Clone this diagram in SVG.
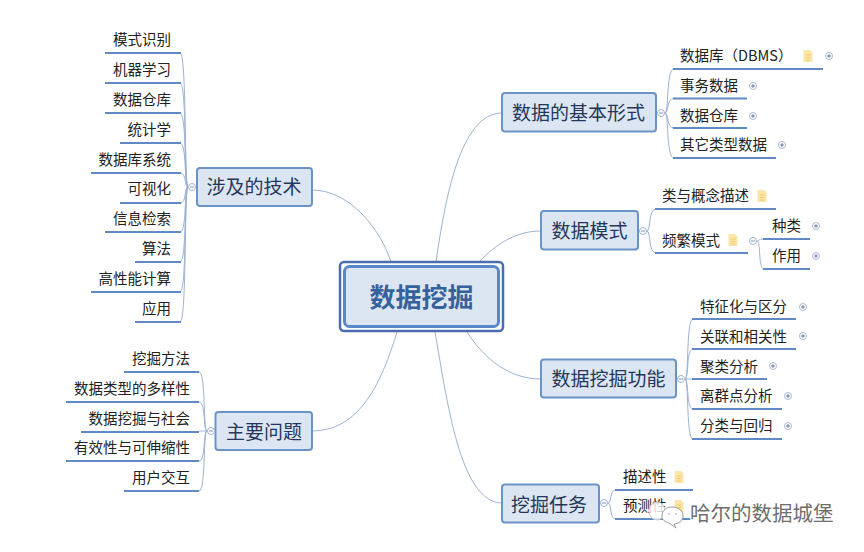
<svg xmlns="http://www.w3.org/2000/svg" width="864" height="552" viewBox="0 0 864 552">
<defs>
<style>
text{font-family:"Noto Sans CJK SC","Liberation Sans",sans-serif;}
.leaf{font-size:14.5px;fill:#222}
.end{text-anchor:end}
.topic{font-size:19px;fill:#24375a;text-anchor:middle}
.box{fill:#dce6f2;stroke:#6a94c8;stroke-width:2}
.ul{stroke:#5f8ac4;stroke-width:2;fill:none}
.c{fill:none;stroke:#9db2d3;stroke-width:1}
.o{fill:#fff;stroke:#9db2d3;stroke-width:1}
.sign{stroke:#7f93b5;stroke-width:1;fill:none}
</style>
<g id="minus"><circle class="o" r="3.5"/><path class="sign" d="M-2 0H2"/></g>
<g id="plus"><circle r="3.5" fill="#fff" stroke="#a9b9d4"/><path d="M-1.8 0H1.8M0 -1.8V1.8" stroke="#5f7299" stroke-width="1"/></g>
<g id="note"><path d="M-4.500 -6H2L4.500 -3.500V6H-4.500Z" fill="#fbe6a9"/><path d="M-2.500 -1H2.500M-2.500 1.500H2.500M-2.500 4H2.500" stroke="#f3cb6e" stroke-width="1"/></g>
</defs>
<rect width="864" height="552" fill="#fff"/>
<g id="connectors">
<path class="c" d="M391 262C381 230 350 190 312 190"/>
<path class="c" d="M397 332C385 370 365 431 312 431"/>
<path class="c" d="M436 262C445 200 460 113 502 113"/>
<path class="c" d="M479 262C495 245 515 231 541 231"/>
<path class="c" d="M467 332C485 360 510 379 541 379"/>
<path class="c" d="M435 332C447 400 460 503 502 503"/>
<g>
<path class="c" d="M188 187C184 187 187 53 180 53"/><path class="c" d="M188 187C184 187 187 83 180 83"/><path class="c" d="M188 187C184 187 187 113 180 113"/><path class="c" d="M188 187C184 187 187 143 180 143"/><path class="c" d="M188 187C184 187 187 173 180 173"/><path class="c" d="M188 187C184 187 187 203 180 203"/><path class="c" d="M188 187C184 187 187 232 180 232"/><path class="c" d="M188 187C184 187 187 262 180 262"/><path class="c" d="M188 187C184 187 187 292 180 292"/><path class="c" d="M188 187C184 187 187 322 180 322"/>
<path class="c" d="M207 431C203 431 206 372 199 372"/><path class="c" d="M207 431C203 431 206 402 199 402"/><path class="c" d="M207 431H199"/><path class="c" d="M207 431C203 431 206 461 199 461"/><path class="c" d="M207 431C203 431 206 491 199 491"/>
<path class="c" d="M665 113C669 113 666 69 674 69"/><path class="c" d="M665 113C669 113 666 98.500 674 98.500"/><path class="c" d="M665 113C669 113 666 128 674 128"/><path class="c" d="M665 113C669 113 666 158 674 158"/>
<path class="c" d="M647 231C651 231 648 209 656 209"/><path class="c" d="M647 231C651 231 648 253 656 253"/>
<path class="c" d="M757 241C760 241 757 239 764 239"/><path class="c" d="M757 241C761 241 758 269 764 269"/>
<path class="c" d="M685 379C689 379 686 319 693 319"/><path class="c" d="M685 379C689 379 686 349 693 349"/><path class="c" d="M685 379H693"/><path class="c" d="M685 379C689 379 686 409 693 409"/><path class="c" d="M685 379C689 379 686 439 693 439"/>
<path class="c" d="M608 503C612 503 609 490 616 490"/><path class="c" d="M608 503C612 503 609 519 616 519"/>
</g>
</g>
<g id="root">
<rect x="340" y="262" width="163" height="69" rx="4" fill="#fff" stroke="#4a6db0" stroke-width="2.500"/>
<rect x="344.500" y="266.500" width="154" height="60" rx="5" fill="#dce6f2" stroke="#5b87c9" stroke-width="3"/>
<text x="421.500" y="307" font-size="26" font-weight="700" text-anchor="middle" fill="#36619c">数据挖掘</text>
</g>
<g id="n-tech"><rect class="box" x="197" y="168" width="115" height="38" rx="3"/><text class="topic" x="254" y="194">涉及的技术</text><use href="#minus" x="192" y="187"/></g>
<g id="n-issue"><rect class="box" x="215.500" y="412" width="96.500" height="38" rx="3"/><text class="topic" x="264" y="439">主要问题</text><use href="#minus" x="211" y="431"/></g>
<g id="n-basic"><rect class="box" x="502" y="93" width="154" height="38.500" rx="3"/><text class="topic" x="578.500" y="120">数据的基本形式</text><use href="#minus" x="661" y="113"/></g>
<g id="n-pattern"><rect class="box" x="541" y="211" width="97" height="38.500" rx="3"/><text class="topic" x="589.500" y="238">数据模式</text><use href="#minus" x="643" y="231"/></g>
<g id="n-func"><rect class="box" x="541" y="359.500" width="135" height="38" rx="3"/><text class="topic" x="608.500" y="386">数据挖掘功能</text><use href="#minus" x="681" y="379"/></g>
<g id="n-task"><rect class="box" x="502" y="484.500" width="97" height="38" rx="3"/><text class="topic" x="549" y="512">挖掘任务</text><use href="#minus" x="604" y="503"/></g>
<g id="l1"><path class="ul" d="M105 53H181"/><text class="leaf end" x="171" y="45">模式识别</text></g>
<g id="l2"><path class="ul" d="M105 83H181"/><text class="leaf end" x="171" y="75">机器学习</text></g>
<g id="l3"><path class="ul" d="M105 113H181"/><text class="leaf end" x="171" y="105">数据仓库</text></g>
<g id="l4"><path class="ul" d="M120 143H181"/><text class="leaf end" x="171" y="135">统计学</text></g>
<g id="l5"><path class="ul" d="M91 173H181"/><text class="leaf end" x="171" y="165">数据库系统</text></g>
<g id="l6"><path class="ul" d="M120 203H181"/><text class="leaf end" x="171" y="194">可视化</text></g>
<g id="l7"><path class="ul" d="M105 232H181"/><text class="leaf end" x="171" y="224">信息检索</text></g>
<g id="l8"><path class="ul" d="M135 262H181"/><text class="leaf end" x="171" y="254">算法</text></g>
<g id="l9"><path class="ul" d="M91 292H181"/><text class="leaf end" x="171" y="284">高性能计算</text></g>
<g id="l10"><path class="ul" d="M135 322H181"/><text class="leaf end" x="171" y="314">应用</text></g>
<g id="i1"><path class="ul" d="M124 372H199"/><text class="leaf end" x="190" y="364">挖掘方法</text></g>
<g id="i2"><path class="ul" d="M66 402H199"/><text class="leaf end" x="190" y="394">数据类型的多样性</text></g>
<g id="i3"><path class="ul" d="M81 432H199"/><text class="leaf end" x="190" y="424">数据挖掘与社会</text></g>
<g id="i4"><path class="ul" d="M66 461H199"/><text class="leaf end" x="190" y="453">有效性与可伸缩性</text></g>
<g id="i5"><path class="ul" d="M124 491H199"/><text class="leaf end" x="190" y="483">用户交互</text></g>
<g id="b1"><path class="ul" d="M673 69H823"/><text class="leaf" x="680" y="61">数据库（DBMS）</text><use href="#note" x="808" y="56"/><use href="#plus" x="829" y="56"/></g>
<g id="b2"><path class="ul" d="M673 98.500H747"/><text class="leaf" x="680" y="91">事务数据</text><use href="#plus" x="753" y="86"/></g>
<g id="b3"><path class="ul" d="M673 128H747"/><text class="leaf" x="680" y="121">数据仓库</text><use href="#plus" x="753" y="116"/></g>
<g id="b4"><path class="ul" d="M673 158H776"/><text class="leaf" x="680" y="150">其它类型数据</text><use href="#plus" x="782" y="145"/></g>
<g id="p1"><path class="ul" d="M655 209H776"/><text class="leaf" x="662" y="201">类与概念描述</text><use href="#note" x="762" y="196"/></g>
<g id="p2"><path class="ul" d="M655 253H748"/><text class="leaf" x="662" y="246">频繁模式</text><use href="#note" x="733" y="240"/><use href="#minus" x="753" y="241"/></g>
<g id="p3"><path class="ul" d="M763 239H810"/><text class="leaf" x="772" y="231">种类</text><use href="#plus" x="816" y="226"/></g>
<g id="p4"><path class="ul" d="M763 269H810"/><text class="leaf" x="772" y="261">作用</text><use href="#plus" x="816" y="256"/></g>
<g id="f1"><path class="ul" d="M692 319H796"/><text class="leaf" x="700" y="312">特征化与区分</text><use href="#plus" x="803" y="307"/></g>
<g id="f2"><path class="ul" d="M692 349H796"/><text class="leaf" x="700" y="342">关联和相关性</text><use href="#plus" x="803" y="336"/></g>
<g id="f3"><path class="ul" d="M692 379H767"/><text class="leaf" x="700" y="372">聚类分析</text><use href="#plus" x="773" y="366"/></g>
<g id="f4"><path class="ul" d="M692 409H782"/><text class="leaf" x="700" y="401">离群点分析</text><use href="#plus" x="788" y="396"/></g>
<g id="f5"><path class="ul" d="M692 439H782"/><text class="leaf" x="700" y="431">分类与回归</text><use href="#plus" x="788" y="426"/></g>
<g id="t1"><path class="ul" d="M615 490H693"/><text class="leaf" x="623" y="482">描述性</text><use href="#note" x="679" y="477"/></g>
<g id="t2"><path class="ul" d="M615 519H693"/><text class="leaf" x="623" y="511">预测性</text><use href="#note" x="679" y="506"/></g>
<g id="watermark">
<ellipse cx="657" cy="511" rx="8" ry="9" fill="#fff" fill-opacity="0.8" stroke="#c9c9c9"/>
<path d="M662 516C662 510 667 507 672 507C679 507 683 511 683 516C683 521 678 524 674 524L676 528L669 523C665 522 662 520 662 516Z" fill="#fff" stroke="#9a9a9a"/>
<circle cx="669" cy="514" r="0.800" fill="#999"/><circle cx="676" cy="514" r="0.800" fill="#999"/>
<text x="690" y="521" font-size="20.500" fill="#6e6e6e" stroke="#fff" stroke-width="2.500" paint-order="stroke">哈尔的数据城堡</text>
</g>
</svg>
